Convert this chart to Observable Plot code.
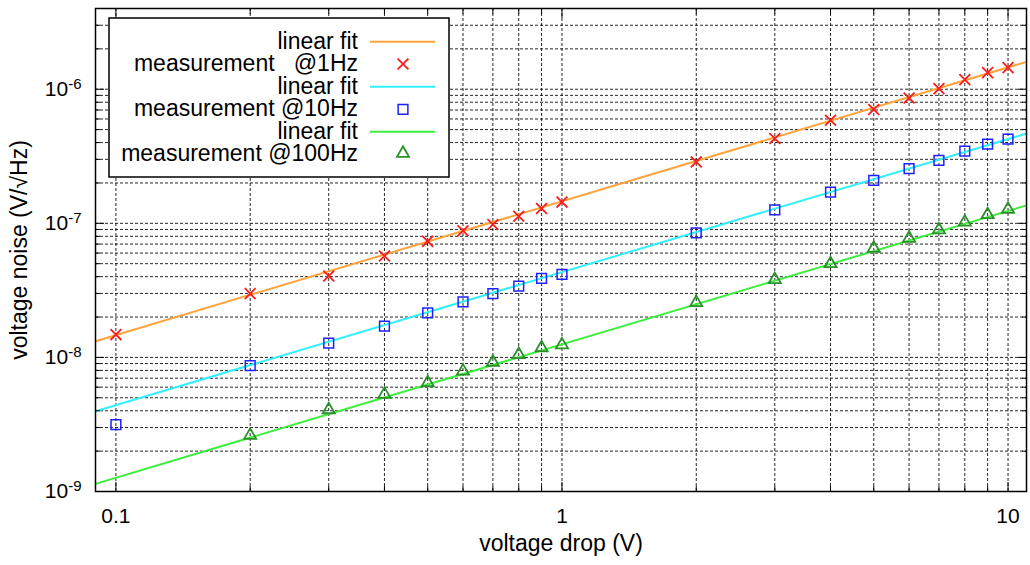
<!DOCTYPE html>
<html>
<head>
<meta charset="utf-8">
<script src="https://cdn.jsdelivr.net/npm/d3@7"></script>
<script src="https://cdn.jsdelivr.net/npm/@observablehq/plot@0.6"></script>
<style>
  html, body { margin: 0; padding: 0; background: #fff; }
  #chart svg { display: block; }
</style>
</head>
<body>
<div id="chart"></div>
<script>
// ---------------- data ----------------
const voltages = [0.1, 0.2, 0.3, 0.4, 0.5, 0.6, 0.7, 0.8, 0.9, 1, 2, 3, 4, 5, 6, 7, 8, 9, 10];
const noise1Hz = [1.48e-8, 2.99e-8, 4.05e-8, 5.7e-8, 7.34e-8, 8.8e-8, 9.8e-8, 1.13e-7, 1.29e-7, 1.44e-7,
                  2.87e-7, 4.29e-7, 5.87e-7, 7.06e-7, 8.61e-7, 1.01e-6, 1.18e-6, 1.33e-6, 1.45e-6];
const noise10Hz = [3.15e-9, 8.7e-9, 1.28e-8, 1.71e-8, 2.15e-8, 2.59e-8, 2.99e-8, 3.4e-8, 3.89e-8, 4.16e-8,
                   8.47e-8, 1.26e-7, 1.71e-7, 2.09e-7, 2.56e-7, 2.95e-7, 3.45e-7, 3.89e-7, 4.24e-7];
const noise100Hz = [null, 2.62e-9, 4.07e-9, 5.3e-9, 6.47e-9, 7.9e-9, 9.2e-9, 1.05e-8, 1.18e-8, 1.24e-8,
                    2.56e-8, 3.8e-8, 5.0e-8, 6.5e-8, 7.73e-8, 8.94e-8, 1.02e-7, 1.16e-7, 1.27e-7];

// linear fit lines (end points at the plot edges)
const fitVoltage = [0.09, 11];
const fit1Hz = [1.32e-8, 1.6e-6];
const fit10Hz = [3.97e-9, 4.67e-7];
const fit100Hz = [1.14e-9, 1.36e-7];

// ticks
const xMajor = [0.1, 1, 10];
const xTickLabels = ["0.1", "1", "10"];
const xMinor = [0.2, 0.3, 0.4, 0.5, 0.6, 0.7, 0.8, 0.9, 2, 3, 4, 5, 6, 7, 8, 9];
const yMajor = [1e-9, 1e-8, 1e-7, 1e-6];
const yTickLabels = ["10^-9", "10^-8", "10^-7", "10^-6"];
const yMinor = [2e-9, 3e-9, 4e-9, 5e-9, 6e-9, 7e-9, 8e-9, 9e-9,
                2e-8, 3e-8, 4e-8, 5e-8, 6e-8, 7e-8, 8e-8, 9e-8,
                2e-7, 3e-7, 4e-7, 5e-7, 6e-7, 7e-7, 8e-7, 9e-7,
                2e-6, 3e-6];

const xTitle = "voltage drop (V)";
const yTitle = "voltage noise (V/\u221AHz)";
const legendLabels = ["linear fit", "measurement   @1Hz", "linear fit", "measurement @10Hz", "linear fit", "measurement @100Hz"];

// ---------------- style ----------------
const C = {
  fit1: "#ffa33a", pts1: "#ff1a1a",
  fit2: "#33f0ff", pts2: "#1f1fff",
  fit3: "#3cef3c", pts3: "#2a912a"
};
const FONT = "'Liberation Sans', Arial, Helvetica, sans-serif";
const gridStyle = {stroke: "#000", strokeWidth: 1, strokeDasharray: "3,2", strokeOpacity: 0.85};

const plot = Plot.plot({
  width: 1030, height: 565,
  marginLeft: 95, marginRight: 4, marginTop: 8, marginBottom: 74,
  style: {fontFamily: FONT, fontSize: "21px", background: "#fff", color: "#000"},
  x: {type: "log", domain: [0.09, 11]},
  y: {type: "log", domain: [1e-9, 4e-6]},
  marks: [
    Plot.ruleX(xMajor.concat(xMinor), gridStyle),
    Plot.ruleY(yMajor.concat(yMinor), gridStyle),

    Plot.line(fitVoltage, {x: fitVoltage, y: fit1Hz, stroke: C.fit1, strokeWidth: 2}),
    Plot.dot(voltages, {x: voltages, y: noise1Hz, symbol: "times", r: 5, stroke: C.pts1, strokeWidth: 1.8}),
    Plot.line(fitVoltage, {x: fitVoltage, y: fit10Hz, stroke: C.fit2, strokeWidth: 2}),
    Plot.dot(voltages, {x: voltages, y: noise10Hz, symbol: "square", r: 5.5, stroke: C.pts2, strokeWidth: 1.5, fill: "none"}),
    Plot.line(fitVoltage, {x: fitVoltage, y: fit100Hz, stroke: C.fit3, strokeWidth: 2}),
    Plot.dot(voltages, {x: voltages, y: noise100Hz, symbol: "triangle", r: 4.5, stroke: C.pts3, strokeWidth: 1.8, fill: "none"}),

    Plot.frame({stroke: "#000", strokeWidth: 1.5}),

    // inward ticks on all four sides
    Plot.axisX(xMajor, {anchor: "bottom", tickSize: -9, fill: "none", label: null}),
    Plot.axisX(xMajor, {anchor: "top", tickSize: -9, fill: "none", label: null}),
    Plot.axisX(xMinor, {anchor: "bottom", tickSize: -5, fill: "none", label: null}),
    Plot.axisX(xMinor, {anchor: "top", tickSize: -5, fill: "none", label: null}),
    Plot.axisY(yMajor, {anchor: "left", tickSize: -9, fill: "none", label: null}),
    Plot.axisY(yMajor, {anchor: "right", tickSize: -9, fill: "none", label: null}),
    Plot.axisY(yMinor, {anchor: "left", tickSize: -5, fill: "none", label: null}),
    Plot.axisY(yMinor, {anchor: "right", tickSize: -5, fill: "none", label: null}),

    // tick labels
    Plot.axisX(xMajor, {anchor: "bottom", tickSize: 0, tickPadding: 17, label: null, fontSize: 21,
      tickFormat: d => xTickLabels[xMajor.indexOf(d)]}),
    Plot.axisY(yMajor, {anchor: "left", tickSize: 0, tickPadding: 14, label: null, fontSize: 21,
      tickFormat: d => yTickLabels[yMajor.indexOf(d)]}),

    // axis titles
    Plot.text([xTitle], {frameAnchor: "bottom", dy: 59, fontSize: 23}),
    Plot.text([yTitle], {frameAnchor: "left", textAnchor: "middle", dx: -76, rotate: -90, fontSize: 23})
  ]
});

document.getElementById("chart").appendChild(plot);

// superscript exponents on y tick labels
const svg = d3.select(plot);
svg.selectAll("g[aria-label='y-axis tick label'] text").each(function () {
  const t = this.textContent;
  const parts = t.split("^");
  if (parts.length === 2) {
    const el = d3.select(this);
    el.text(null);
    el.append("tspan").text(parts[0]);
    el.append("tspan").attr("dy", "-0.45em").attr("font-size", "15px").text(parts[1]);
  }
});

// legend (inside the plot, top-left)
const lg = svg.append("g").attr("font-family", FONT).attr("font-size", 23);
lg.append("rect").attr("x", 109).attr("y", 18).attr("width", 340).attr("height", 159)
  .attr("fill", "#fff").attr("stroke", "#000").attr("stroke-width", 1.5);
const baselines = [48.5, 71, 93.5, 116, 138.5, 161];
legendLabels.forEach((s, i) => {
  lg.append("text").attr("x", 358).attr("y", baselines[i]).attr("text-anchor", "end")
    .style("white-space", "pre").attr("fill", "#000").text(s);
});
const fitCols = [C.fit1, C.fit2, C.fit3];
const lineYs = [41.7, 86.7, 131.7];
fitCols.forEach((c, i) => {
  lg.append("line").attr("x1", 370).attr("x2", 435).attr("y1", lineYs[i]).attr("y2", lineYs[i])
    .attr("stroke", c).attr("stroke-width", 2);
});
const markYs = [64, 109.3, 153.3];
const syms = [[d3.symbolTimes, 5, C.pts1, 1.8], [d3.symbolSquare, 5.5, C.pts2, 1.5], [d3.symbolTriangle, 4.5, C.pts3, 1.8]];
syms.forEach(([s, r, c, w], i) => {
  lg.append("path").attr("d", d3.symbol(s, Math.PI * r * r)())
    .attr("transform", `translate(403,${markYs[i]})`)
    .attr("fill", "none").attr("stroke", c).attr("stroke-width", w);
});
</script>
</body>
</html>
